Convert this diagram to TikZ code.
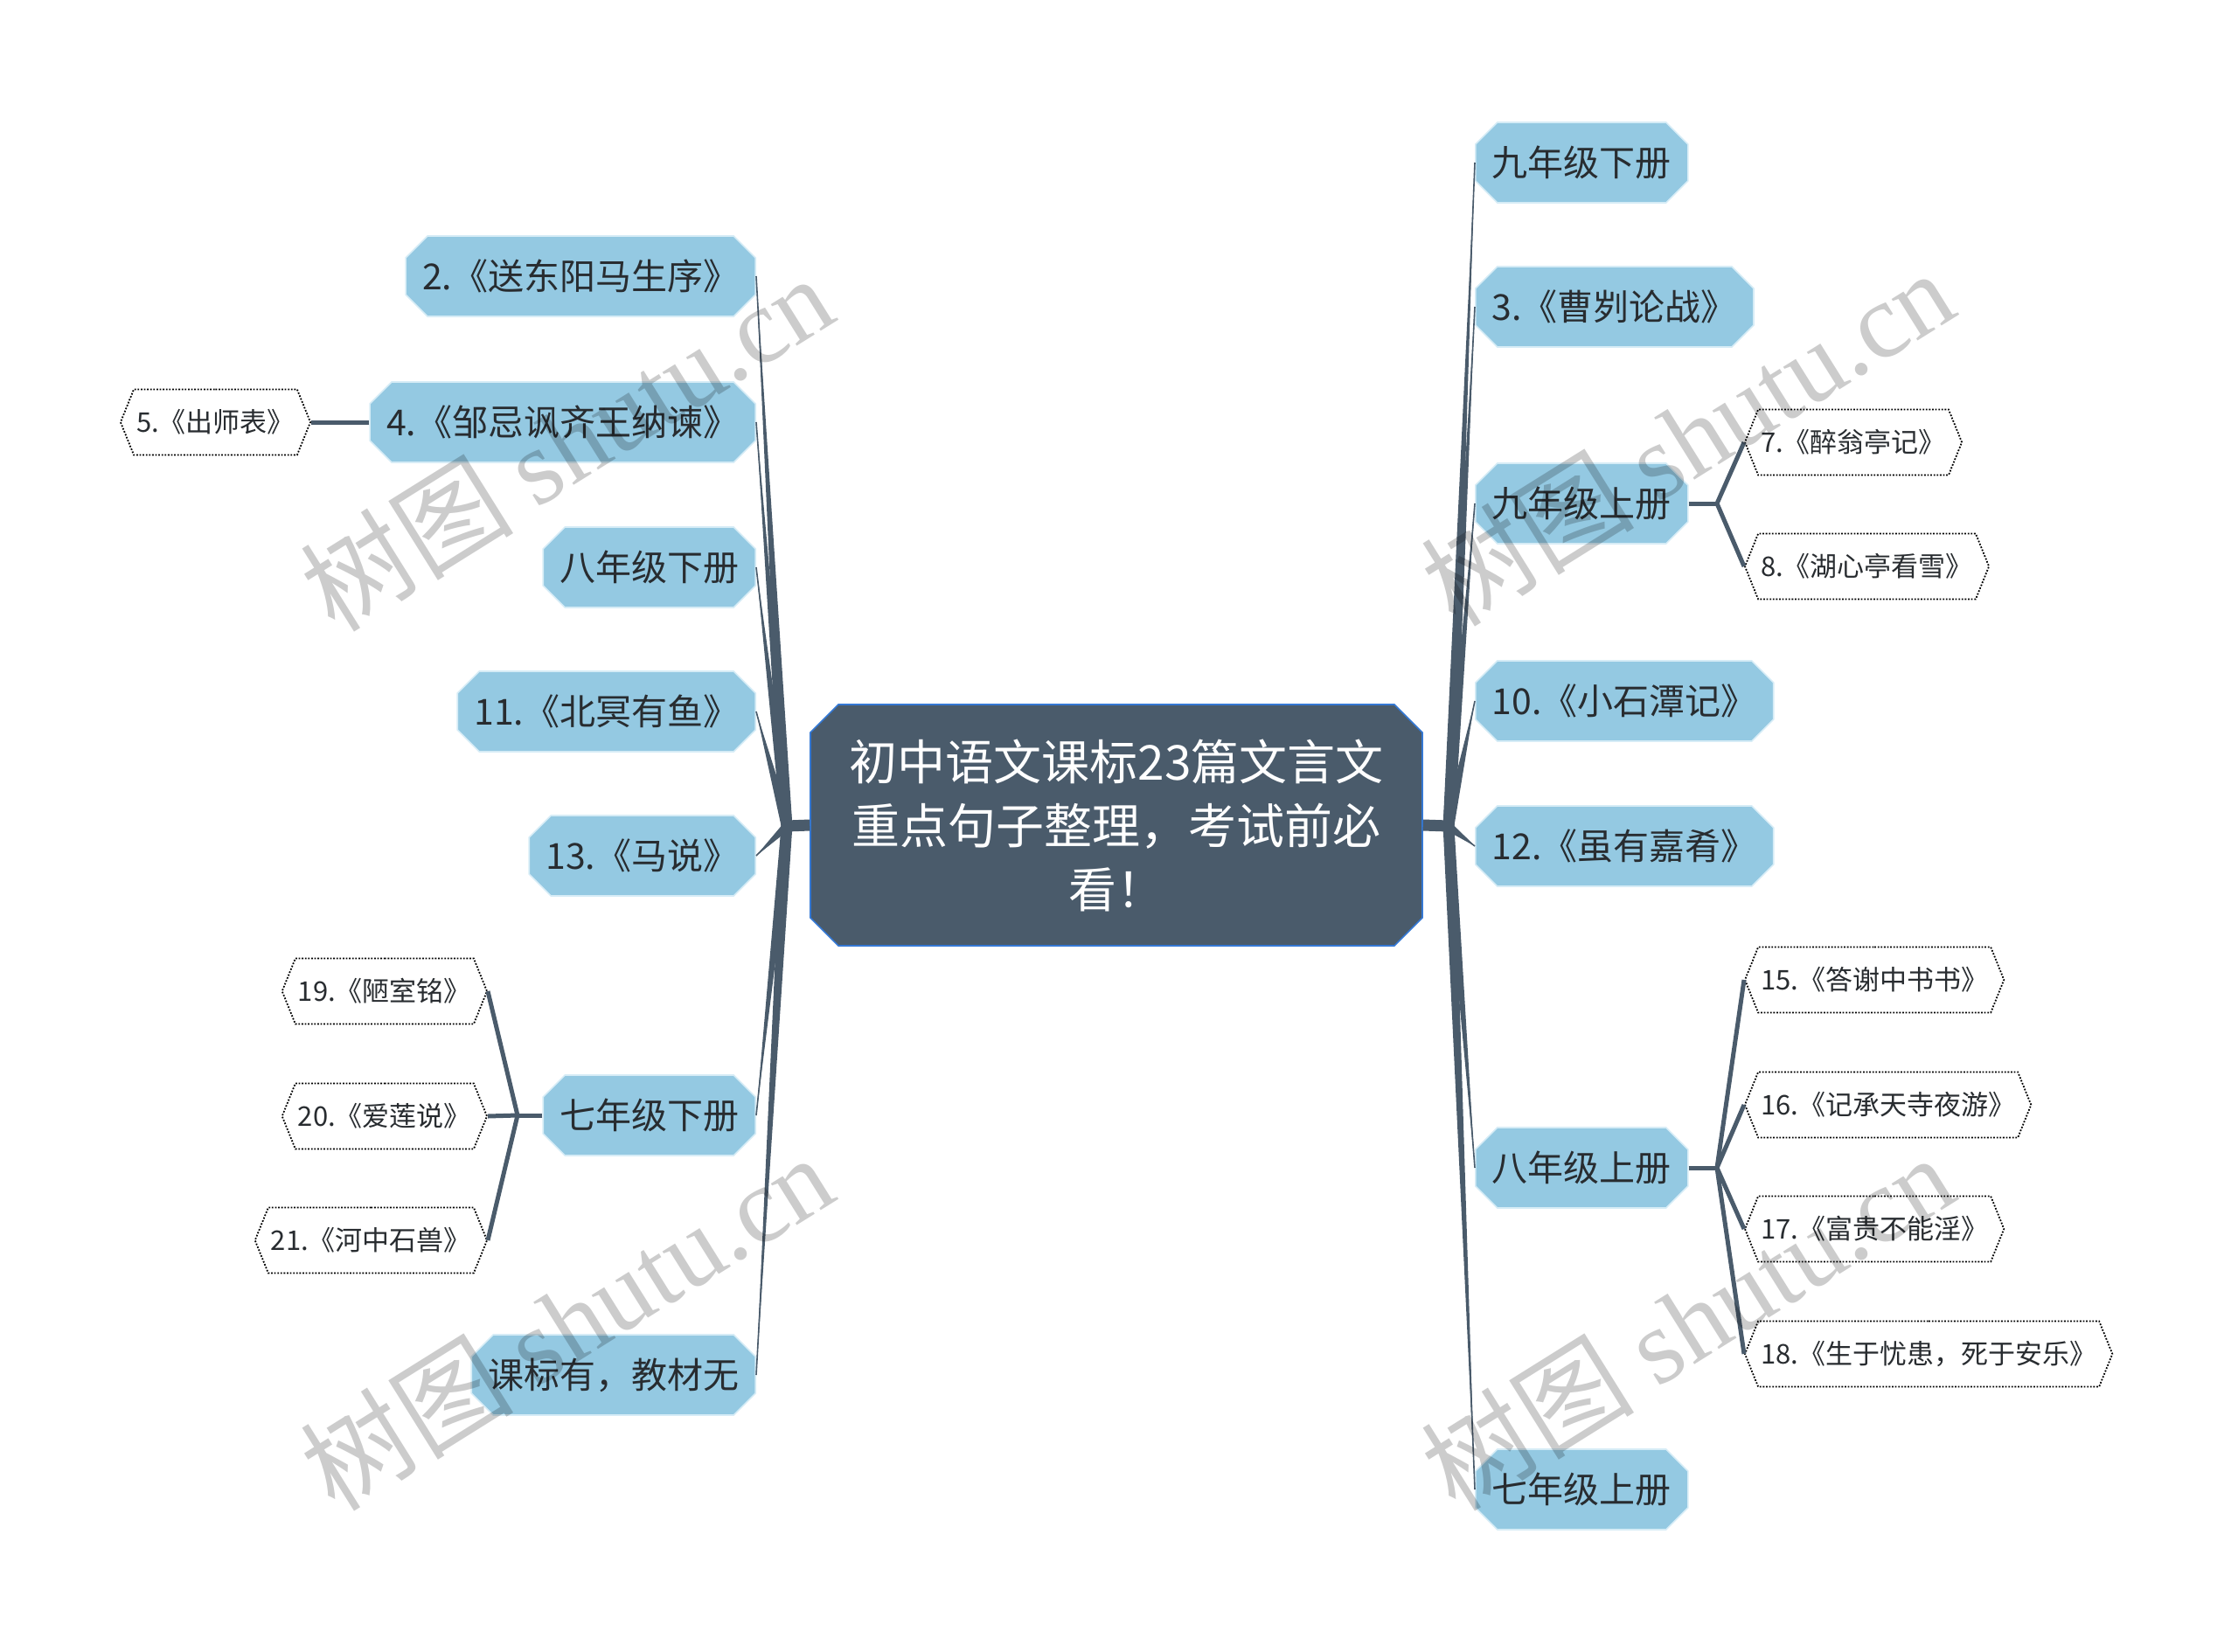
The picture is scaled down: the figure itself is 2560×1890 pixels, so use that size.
\documentclass[tikz,border=0pt]{standalone}
\usepackage{fontspec}
\setmainfont{Noto Sans CJK SC}
\newfontfamily\wmfont{Liberation Serif}
\usetikzlibrary{shapes.misc,shapes.symbols}
\definecolor{topicfill}{RGB}{148,201,226}
\definecolor{topicline}{RGB}{214,236,246}
\definecolor{rootfill}{RGB}{74,91,107}
\definecolor{rootline}{RGB}{52,120,212}
\definecolor{linkc}{RGB}{74,91,107}
\definecolor{inkdark}{RGB}{40,44,48}
\tikzset{
  rootbox/.style={chamfered rectangle, chamfered rectangle xsep=8pt, chamfered rectangle ysep=8pt,
    fill=rootfill, draw=rootline, line width=0.8pt, text=white, align=center,
    font=\fontsize{27.5}{36.5}\selectfont, minimum width=350pt, minimum height=138pt, inner sep=0pt},
  topic/.style={chamfered rectangle, chamfered rectangle xsep=5.5pt, chamfered rectangle ysep=7pt,
    fill=topicfill, draw=topicline, line width=0.8pt, text=inkdark,
    font=\fontsize{20.5}{24}\selectfont, minimum height=46pt, inner xsep=4pt, inner ysep=0pt},
  leaf/.style={signal, signal to=east and west, signal pointer angle=136,
    draw=black, dash pattern=on 0.9pt off 0.9pt, line width=0.9pt, fill=white, text=inkdark,
    font=\fontsize{15.5}{18}\selectfont, minimum height=37.5pt, inner xsep=1.5pt, inner ysep=0pt},
  sublink/.style={draw=linkc, line width=2.5pt},
  watermark/.style={text=black, text opacity=0.2, font=\fontsize{61}{61}\selectfont, rotate=32}
}
\begin{document}
\begin{tikzpicture}[x=0.5pt,y=-0.5pt]
	\useasboundingbox (0,0) rectangle (2560,1890);

	% centre
	\node[rootbox] (root) at (1277,944) {初中语文课标23篇文言文\\重点句子整理，考试前必\\看！};
	\coordinate (lhub) at (900,945);
	\coordinate (rhub) at (1657,945);

	% left side
	\node[topic, anchor=east] (ls2) at (865,316) {2.《送东阳马生序》};
	\node[topic, anchor=east] (ls4) at (865,483) {4.《邹忌讽齐王纳谏》};
	\node[topic, anchor=east] (l8b) at (865,649) {八年级下册};
	\node[topic, anchor=east] (l11) at (865,814) {11.《北冥有鱼》};
	\node[topic, anchor=east] (l13) at (865,979) {13.《马说》};
	\node[topic, anchor=east] (l7b) at (865,1276) {七年级下册};
	\node[topic, anchor=east] (lkb) at (865,1573) {课标有，教材无};

	% right side
	\node[topic, anchor=west] (r9b) at (1687,186) {九年级下册};
	\node[topic, anchor=west] (r3) at (1687,351) {3.《曹刿论战》};
	\node[topic, anchor=west] (r9a) at (1687,576) {九年级上册};
	\node[topic, anchor=west] (r10) at (1687,802) {10.《小石潭记》};
	\node[topic, anchor=west] (r12) at (1687,968) {12.《虽有嘉肴》};
	\node[topic, anchor=west] (r8a) at (1687,1336) {八年级上册};
	\node[topic, anchor=west] (r7a) at (1687,1704) {七年级上册};

	% leaves
	\node[leaf, anchor=east] (f5) at (356,483) {5.《出师表》};
	\node[leaf, anchor=east] (f19) at (558,1134) {19.《陋室铭》};
	\node[leaf, anchor=east] (f20) at (558,1277) {20.《爱莲说》};
	\node[leaf, anchor=east] (f21) at (558,1419) {21.《河中石兽》};
	\node[leaf, anchor=west] (f7) at (1995,506) {7.《醉翁亭记》};
	\node[leaf, anchor=west] (f8) at (1995,648) {8.《湖心亭看雪》};
	\node[leaf, anchor=west] (f15) at (1995,1121) {15.《答谢中书书》};
	\node[leaf, anchor=west] (f16) at (1995,1264) {16.《记承天寺夜游》};
	\node[leaf, anchor=west] (f17) at (1995,1406) {17.《富贵不能淫》};
	\node[leaf, anchor=west] (f18) at (1995,1549) {18.《生于忧患，死于安乐》};

	% main branches
	\draw[linkc, line width=6.5pt] (root.west) -- (lhub);
	\draw[linkc, line width=6.5pt] (root.east) -- (rhub);
	\foreach \n in {ls2,ls4,l8b,l11,l13,l7b,lkb} {
		\fill[linkc] ([xshift=-3.2pt]lhub) -- (\n.east) -- ([xshift=3.2pt]lhub) -- cycle;
		\fill[linkc] ([yshift=-3.2pt]lhub) -- (\n.east) -- ([yshift=3.2pt]lhub) -- cycle;
		\draw[linkc, line width=0.8pt] (lhub) -- (\n.east);
	}
	\foreach \n in {r9b,r3,r9a,r10,r12,r8a,r7a} {
		\fill[linkc] ([xshift=-3.2pt]rhub) -- (\n.west) -- ([xshift=3.2pt]rhub) -- cycle;
		\fill[linkc] ([yshift=-3.2pt]rhub) -- (\n.west) -- ([yshift=3.2pt]rhub) -- cycle;
		\draw[linkc, line width=0.8pt] (rhub) -- (\n.west);
	}

	% sub branches
	\coordinate (h7b) at (592,1276);
	\coordinate (h9a) at (1964,576);
	\coordinate (h8a) at (1964,1336);
	\draw[sublink] (ls4.west) -- (f5.east);
	\draw[sublink] (l7b.west) -- (h7b);
	\foreach \n in {f19,f20,f21} \draw[sublink] (h7b) -- (\n.east);
	\draw[sublink] (r9a.east) -- (h9a);
	\foreach \n in {f7,f8} \draw[sublink] (h9a) -- (\n.west);
	\draw[sublink] (r8a.east) -- (h8a);
	\foreach \n in {f15,f16,f17,f18} \draw[sublink] (h8a) -- (\n.west);

	% watermark
	\node[watermark] (wm1) at (648,506) {树图 {\wmfont shutu.cn}};
	\node[watermark] (wm2) at (1930,500) {树图 {\wmfont shutu.cn}};
	\node[watermark] (wm3) at (648,1512) {树图 {\wmfont shutu.cn}};
	\node[watermark] (wm4) at (1930,1512) {树图 {\wmfont shutu.cn}};
\end{tikzpicture}
\end{document}
